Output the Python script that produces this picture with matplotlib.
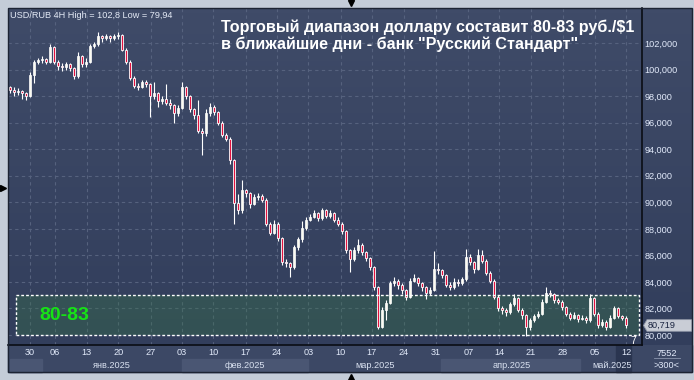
import numpy as np
import matplotlib
matplotlib.use('Agg')
import matplotlib.pyplot as plt
import matplotlib.transforms as mtransforms
from matplotlib.patches import Rectangle, Polygon
from matplotlib.lines import Line2D
from matplotlib.colors import LinearSegmentedColormap

plt.rcParams['font.family'] = ['Liberation Sans', 'DejaVu Sans']

# USD/RUB 4H, open of each bar = previous close
first_open = 98.7
close = [
    98.5, 98.3, 98.4, 98.2, 98.0, 99.6, 100.6, 100.7, 100.8, 100.6,
    101.7, 100.6, 100.3, 100.2, 100.4, 100.1, 99.5, 101.0, 100.4, 100.6,
    101.8, 101.9, 102.5, 102.4, 102.5, 102.4, 102.5, 102.6, 101.5, 100.6,
    99.4, 98.8, 98.7, 99.1, 98.9, 98.0, 98.2, 97.6, 97.8, 97.5,
    97.3, 96.7, 97.1, 98.7, 98.0, 97.0, 96.6, 95.4, 95.2, 96.7,
    97.2, 96.8, 96.0, 95.1, 94.8, 93.2, 89.95, 89.4, 90.9, 90.7,
    89.9, 90.4, 90.5, 90.2, 88.4, 87.7, 88.4, 87.3, 85.5, 85.4,
    85.1, 86.6, 87.2, 88.1, 88.7, 88.9, 89.2, 88.8, 89.4, 89.0,
    89.2, 88.7, 88.4, 87.8, 86.4, 85.7, 86.4, 86.8, 86.25, 85.8,
    85.1, 83.6, 80.6, 81.9, 82.4, 83.9, 84.1, 83.8, 83.4, 82.9,
    84.1, 84.3, 83.9, 83.6, 83.2, 83.4, 85.0, 84.9, 84.5, 83.8,
    83.6, 84.0, 83.9, 84.2, 85.9, 85.5, 85.0, 86.0, 85.6, 84.7,
    84.1, 82.9, 82.0, 81.9, 81.7, 82.3, 82.8, 81.9, 81.5, 80.6,
    81.1, 81.4, 81.6, 82.5, 83.2, 83.1, 82.6, 82.5, 82.1, 81.6,
    81.3, 81.5, 81.2, 81.3, 81.1, 82.8, 81.6, 80.75, 81.0, 80.6,
    81.3, 82.0, 81.4, 81.3, 80.719,
]
high = [
    98.8, 98.7, 98.6, 98.5, 98.3, 99.8, 100.7, 100.9, 101.0, 100.9,
    101.9, 101.8, 100.7, 100.5, 100.6, 100.5, 100.2, 101.3, 101.1, 100.9,
    101.9, 102.1, 102.8, 102.6, 102.7, 102.6, 102.7, 102.8, 102.7, 101.6,
    100.7, 99.5, 99.0, 99.2, 99.2, 99.0, 99.1, 98.3, 98.0, 98.9,
    97.8, 97.4, 97.3, 99.1, 98.8, 98.1, 97.1, 97.7, 95.6, 97.0,
    97.5, 97.3, 96.9, 96.1, 95.2, 94.9, 93.3, 90.6, 91.7, 91.0,
    90.8, 90.6, 90.7, 90.6, 90.3, 88.5, 88.7, 88.5, 87.4, 85.7,
    85.5, 86.8, 87.4, 88.6, 88.9, 89.1, 89.4, 89.3, 89.6, 89.5,
    89.4, 89.3, 88.9, 88.5, 87.9, 86.5, 86.6, 87.2, 86.9, 86.3,
    85.9, 85.2, 83.7, 82.1, 82.6, 84.1, 84.4, 84.2, 83.9, 83.5,
    84.3, 84.6, 84.4, 84.0, 83.7, 83.6, 86.3, 85.4, 85.0, 84.6,
    84.0, 84.3, 84.2, 84.4, 86.5, 86.1, 85.6, 86.5, 86.4, 85.7,
    84.8, 84.2, 83.0, 82.2, 82.0, 82.5, 83.1, 82.9, 82.0, 81.6,
    81.3, 81.6, 81.8, 82.7, 83.6, 83.4, 83.2, 82.8, 82.6, 82.2,
    81.7, 81.7, 81.6, 81.5, 81.4, 83.1, 82.9, 81.7, 81.2, 81.1,
    81.5, 82.2, 82.1, 81.5, 81.4,
]
low = [
    98.2, 98.0, 98.1, 97.8, 97.7, 97.9, 99.0, 100.4, 100.5, 100.4,
    100.5, 100.4, 100.0, 99.9, 100.0, 99.9, 99.3, 99.4, 100.2, 100.2,
    100.5, 101.6, 101.8, 102.1, 102.2, 102.1, 102.2, 102.3, 101.4, 100.4,
    99.2, 98.6, 98.5, 98.6, 98.7, 96.4, 97.8, 97.2, 97.4, 97.3,
    97.0, 96.0, 96.5, 97.0, 97.8, 96.8, 96.3, 95.2, 93.6, 95.0,
    96.5, 96.6, 95.8, 94.9, 94.6, 92.9, 88.4, 89.1, 89.2, 90.4,
    89.6, 89.8, 90.2, 90.0, 88.2, 87.5, 87.6, 87.1, 85.3, 85.1,
    84.4, 85.0, 86.4, 87.0, 87.9, 88.6, 88.8, 88.6, 88.7, 88.8,
    88.8, 88.5, 88.2, 87.6, 86.2, 84.75, 85.6, 86.2, 86.0, 85.6,
    84.9, 83.4, 80.45, 80.5, 81.1, 82.3, 83.7, 83.5, 83.1, 82.6,
    82.8, 84.0, 83.7, 83.3, 82.7, 83.0, 83.3, 84.6, 84.3, 83.6,
    83.4, 83.5, 83.7, 83.8, 84.1, 85.3, 84.7, 84.9, 85.4, 84.5,
    83.9, 82.7, 81.8, 81.6, 81.4, 81.6, 82.2, 81.7, 81.2, 79.94,
    80.4, 81.0, 81.3, 81.5, 82.4, 82.9, 82.4, 82.3, 81.9, 81.4,
    81.1, 81.2, 81.0, 81.1, 80.9, 81.0, 81.4, 80.5, 80.6, 80.4,
    80.5, 81.2, 81.3, 81.1, 80.5,
]

day_labels = ['30', '06', '13', '20', '27', '03', '10', '17', '24', '03',
              '10', '17', '24', '31', '07', '14', '21', '28', '05', '12']
day_pos = [5, 11.25, 19.2, 27.1, 35.2, 42.9, 50.8, 58.9, 66.7, 74.6,
           82.7, 90.4, 98.5, 106.5, 114.6, 122.3, 130.2, 138.2, 146.25, 154]
month_labels = ['янв.2025', 'фев.2025', 'мар.2025', 'апр.2025', 'май.2025']
month_pos = [25.5, 58.75, 91.25, 125.5, 150.5]
month_edges = [0, 8, 42.9, 74.6, 107.8, 142.5, 158]   # дек, янв, фев, мар, апр, май
price_ticks = [80, 82, 84, 86, 88, 90, 92, 94, 96, 98, 100, 102]
zone_low, zone_high = 80, 83

header = 'USD/RUB 4H High = 102,8 Low = 79,94'
title1 = 'Торговый диапазон доллару составит 80-83 руб./$1'
title2 = 'в ближайшие дни - банк "Русский Стандарт"'

W, H = 694, 380
def fx(px):
    return px / W
def fy(py):
    return 1 - py / H

fig = plt.figure(figsize=(W / 100, H / 100), dpi=100)
fig.patch.set_facecolor('#c4ccd8')

grad = LinearSegmentedColormap.from_list('bg', ['#323e5c', '#3f4b68'])

# right price panel background
rp = fig.add_axes([fx(642), fy(345), fx(692) - fx(642), fy(8) - fy(345)])
rp.imshow(np.linspace(0, 1, 64).reshape(-1, 1), cmap=grad, aspect='auto',
          origin='lower', extent=[0, 1, 0, 1])
rp.set_axis_off()

# bottom date panel + month bands
fig.add_artist(Rectangle((fx(8), fy(372)), fx(684), (372 - 345) / H,
                         transform=fig.transFigure, color='#3c4865', zorder=-1))

ax = fig.add_axes([fx(8), fy(345), fx(642) - fx(8), fy(8) - fy(345)])
ymin = 80 - (345 - 335) / 13.27
ymax = 80 + (335 - 8) / 13.27
xmin, xmax = -0.5, 158
ax.imshow(np.linspace(0, 1, 64).reshape(-1, 1), cmap=grad, aspect='auto',
          origin='lower', extent=[xmin, xmax, ymin, ymax], zorder=0)
ax.set_xlim(xmin, xmax)
ax.set_ylim(ymin, ymax)

for t in price_ticks:
    ax.axhline(t, color='#56627e', lw=0.8, ls=(0, (3, 3)), zorder=1)
for p in day_pos:
    ax.axvline(p, color='#56627e', lw=0.8, ls=(0, (3, 3)), zorder=1)

# 80-83 zone
blend = mtransforms.blended_transform_factory(ax.transAxes, ax.transData)
ax.add_patch(Rectangle((0.0126, zone_low), 0.982, zone_high - zone_low,
                       transform=blend, facecolor='#37704a', alpha=0.4,
                       edgecolor='none', zorder=1.5))
ax.add_patch(Rectangle((0.0126, zone_low), 0.982, zone_high - zone_low,
                       transform=blend, fill=False, edgecolor='white',
                       lw=1, ls=(0, (2, 1.5)), zorder=5))

# candles
c = np.array(close)
o = np.array([first_open] + close[:-1])
x = np.arange(len(c))
up = c >= o
ax.vlines(x, low, high, color='white', lw=0.8, zorder=3)
bottoms = np.minimum(o, c)
heights = np.maximum(np.abs(c - o), 0.06)
ax.bar(x[up], heights[up], bottom=bottoms[up], width=0.62, color='#fbfbf0',
       edgecolor='white', lw=0.5, zorder=4)
ax.bar(x[~up], heights[~up], bottom=bottoms[~up], width=0.62, color='#e3123f',
       edgecolor='white', lw=0.6, zorder=4)

ax.text(0.05, (zone_low + zone_high) / 2, '80-83', transform=blend,
        color='#16e316', fontsize=14, fontweight='bold', va='center', zorder=6)

# axes / ticks
ax.yaxis.tick_right()
ax.set_yticks(price_ticks, [f'{t},000' for t in price_ticks])
ax.set_xticks(day_pos, day_labels)
ax.tick_params(axis='y', length=0, pad=2, labelsize=6.6, labelcolor='#e2eafa')
ax.tick_params(axis='x', length=0, pad=2.5, labelsize=6.6, labelcolor='#e2eafa')
for s in ['left', 'top']:
    ax.spines[s].set_visible(False)
for s in ['right', 'bottom']:
    ax.spines[s].set_color('#0a0d14')
    ax.spines[s].set_linewidth(1.2)

bx = mtransforms.blended_transform_factory(ax.transData, fig.transFigure)
for k in (0, 2, 4):
    fig.add_artist(Rectangle((month_edges[k], fy(372)),
                             month_edges[k + 1] - month_edges[k], (372 - 359) / H,
                             transform=bx, color='#4a5673', zorder=-0.8))
fig.add_artist(Rectangle((151.5, fy(372)), 3.7, (372 - 345) / H, transform=bx,
                         color='#2a3550', zorder=-0.6))
for lab, p in zip(month_labels, month_pos):
    fig.text(p, fy(365), lab, transform=bx, ha='center', va='center',
             fontsize=6.6, color='#d9e1f0')

# last price marker
lp = mtransforms.blended_transform_factory(fig.transFigure, ax.transData)
hh = 0.44
fig.add_artist(Polygon([(fx(643.5), c[-1]), (fx(647), c[-1] + hh), (fx(692), c[-1] + hh),
                        (fx(692), c[-1] - hh), (fx(647), c[-1] - hh)],
                       closed=True, transform=lp, facecolor='#c9cdd6',
                       edgecolor='#8c93a3', lw=0.6, zorder=6))
fig.text(fx(648), c[-1], f'{c[-1]:.3f}'.replace('.', ','), transform=lp,
         va='center', ha='left', fontsize=6.6, color='#1a2440', zorder=7)

# texts
fig.text(fx(10), fy(15), header, va='center', ha='left', fontsize=6.6, color='#e4eaf6')
fig.text(fx(221), fy(27), title1, va='center', ha='left', fontsize=11.6,
         fontweight='bold', color='white')
fig.text(fx(221), fy(44), title2, va='center', ha='left', fontsize=11.6,
         fontweight='bold', color='white')
fig.text(fx(633), fy(341), '7', va='center', ha='center', fontsize=7.5, color='white')
fig.text(fx(667), fy(353), '7552', va='center', ha='center', fontsize=6.6, color='#e2eafa')
fig.add_artist(Line2D([fx(654), fx(680)], [fy(358), fy(358)], color='#8a95ad', lw=0.6,
                      transform=fig.transFigure))
fig.text(fx(667), fy(366), '>300<', va='center', ha='center', fontsize=6.6, color='#e2eafa')

# frame and small scroll triangles
fig.add_artist(Rectangle((fx(8), fy(372)), fx(684), (372 - 8) / H, transform=fig.transFigure,
                         fill=False, edgecolor='#1c2333', lw=1, zorder=8))
fig.add_artist(Line2D([fx(351)], [fy(3)], marker='v', color='black', markersize=5,
                      transform=fig.transFigure))
fig.add_artist(Line2D([fx(3)], [fy(188)], marker='>', color='black', markersize=5,
                      transform=fig.transFigure))
fig.add_artist(Line2D([fx(351)], [fy(377)], marker='^', color='black', markersize=5,
                      transform=fig.transFigure))

fig.savefig('out.png', dpi=100, facecolor=fig.get_facecolor())
